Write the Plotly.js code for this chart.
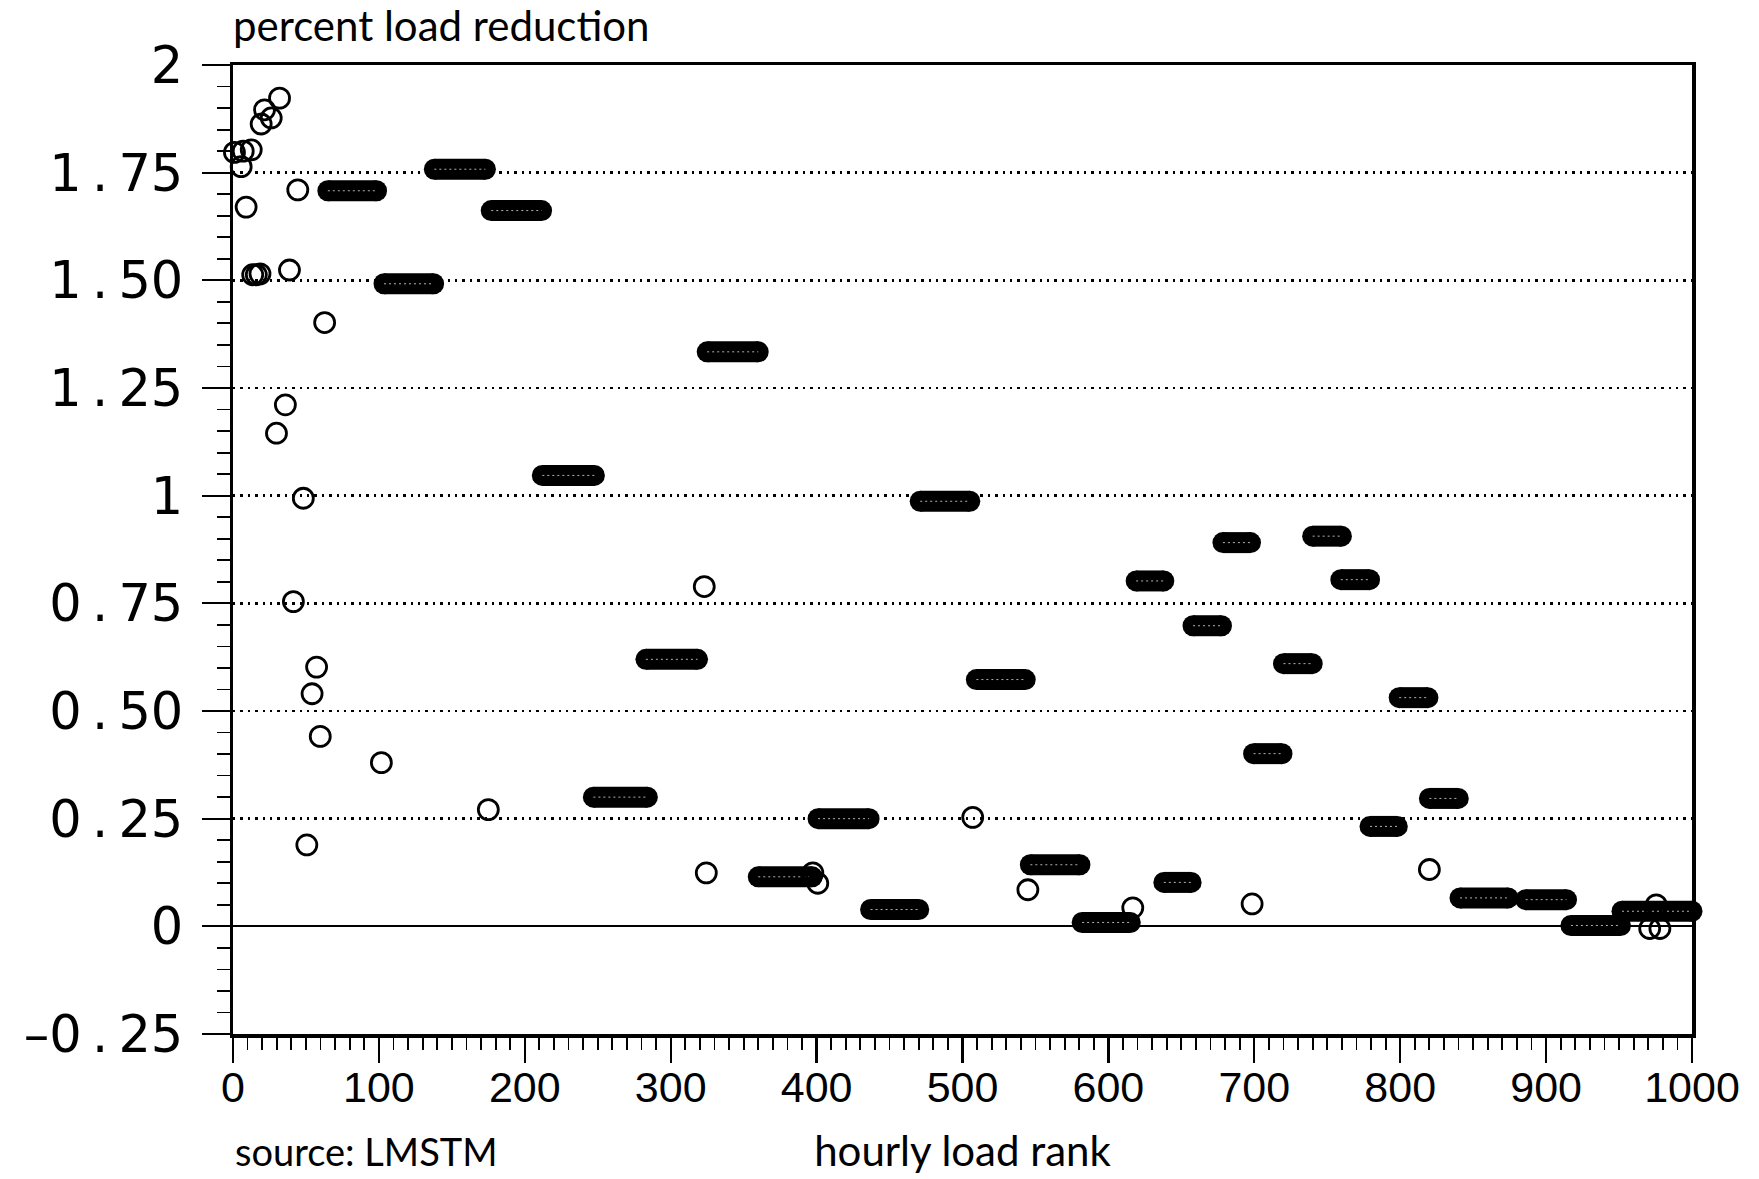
<!DOCTYPE html>
<html>
<head>
<meta charset="utf-8">
<script src="https://cdn.plot.ly/plotly-3.0.1.min.js"></script>
<style>
  html, body { margin: 0; padding: 0; background: #ffffff; }
  #chart { width: 1759px; height: 1179px; }
</style>
</head>
<body>
<div id="chart"></div>
<script>
// ---- Data ----
// Isolated hours (open circles): hourly load rank and percent load reduction
const circleRank  = [1, 7, 12.5, 5.6, 9, 19.3, 21.6, 26.2, 31.9, 13.5, 16, 18.5, 38.7, 44.4, 62.8,
                     35.9, 29.8, 48.2, 41.4, 57.3, 54.2, 59.8, 101.7, 50.6, 175, 323, 324.4,
                     397.4, 400.8, 507, 544.8, 616.7, 698.5, 820, 975.5, 971, 978];
const circleValue = [1.797, 1.800, 1.803, 1.764, 1.670, 1.863, 1.896, 1.877, 1.923, 1.513, 1.513, 1.515, 1.524, 1.710, 1.402,
                     1.211, 1.145, 0.994, 0.754, 0.602, 0.540, 0.441, 0.380, 0.189, 0.271, 0.789, 0.124,
                     0.124, 0.100, 0.253, 0.085, 0.043, 0.052, 0.132, 0.050, -0.005, -0.005];

// Runs of consecutive hours sharing one reduction (drawn as dense bars of circles)
const blockStart = [65, 103.5, 138, 177, 212, 247, 283, 325, 360, 401, 437, 471, 509.5, 546.5, 582,
                    619, 638, 658, 678.5, 699.5, 720, 740, 759.3, 779.3, 799.3, 820, 841, 886, 917, 952];
const blockEnd   = [98.4, 137.5, 173, 211.5, 247.7, 284, 318.4, 360, 397, 436, 470, 505, 543, 580.5, 615,
                    638, 656.7, 677.5, 697.4, 719, 739.7, 759.7, 779, 798, 819, 839.8, 874, 914, 951, 1000];
const blockValue = [1.708, 1.492, 1.758, 1.662, 1.047, 0.300, 0.620, 1.334, 0.115, 0.250, 0.039, 0.987, 0.573, 0.143, 0.009,
                    0.802, 0.102, 0.698, 0.891, 0.401, 0.610, 0.906, 0.805, 0.232, 0.531, 0.297, 0.066, 0.062, 0.002, 0.035];

// Axis ticks
const yTickVals = [-0.25, 0, 0.25, 0.5, 0.75, 1, 1.25, 1.5, 1.75, 2];
const yTickText = ["\u20130\u2009.\u200925", "0", "0\u2009.\u200925", "0\u2009.\u200950", "0\u2009.\u200975",
                   "1", "1\u2009.\u200925", "1\u2009.\u200950", "1\u2009.\u200975", "2"];
const xTickVals = [0, 100, 200, 300, 400, 500, 600, 700, 800, 900, 1000];
const xTickText = ["0", "100", "200", "300", "400", "500", "600", "700", "800", "900", "1000"];

// ---- Build segment arrays for the runs ----
const segX = [], segY = [];
for (let i = 0; i < blockStart.length; i++) {
  segX.push(blockStart[i], blockEnd[i], null);
  segY.push(blockValue[i], blockValue[i], null);
}

const BAR_H = 21;
const traces = [
  {
    type: 'scatter', mode: 'lines+markers', x: segX, y: segY,
    line: { color: '#000000', width: BAR_H },
    marker: { symbol: 'circle', size: BAR_H, color: '#000000', line: { width: 0 } },
    connectgaps: false, cliponaxis: false, hoverinfo: 'skip', showlegend: false
  },
  {
    type: 'scatter', mode: 'lines', x: segX, y: segY,
    line: { color: '#b0b0b0', width: 1, dash: '2px,3px' },
    connectgaps: false, cliponaxis: false, hoverinfo: 'skip', showlegend: false
  },
  {
    type: 'scatter', mode: 'markers', x: circleRank, y: circleValue,
    marker: { symbol: 'circle-open', size: 20, color: '#000000', line: { width: 2.8, color: '#000000' } },
    cliponaxis: false, showlegend: false
  }
];

const textFont = { family: 'Lato, "Open Sans", sans-serif', size: 42, color: '#000000' };

const layout = {
  width: 1759, height: 1179,
  paper_bgcolor: '#ffffff', plot_bgcolor: '#ffffff',
  margin: { l: 233, r: 67, t: 65, b: 145, pad: 0 },
  showlegend: false,
  title: {
    text: 'percent load reduction',
    font: textFont,
    x: 0, xref: 'paper', xanchor: 'left',
    y: 1 - 26 / 1179, yref: 'container', yanchor: 'middle'
  },
  xaxis: {
    range: [0, 1000], autorange: false,
    tickmode: 'array', tickvals: xTickVals, ticktext: xTickText,
    ticks: 'outside', ticklen: 25, tickwidth: 2.2, tickcolor: '#000000',
    minor: { dtick: 10, tick0: 0, ticks: 'outside', ticklen: 12, tickwidth: 1.8, tickcolor: '#000000', showgrid: false },
    tickfont: { family: '"Liberation Sans", sans-serif', size: 43, color: '#000000' },
    ticklabelstandoff: -12,
    showline: true, linecolor: '#000000', linewidth: 3.5, mirror: true,
    showgrid: false, zeroline: false,
    title: { text: 'hourly load rank', font: textFont, standoff: 27 }
  },
  yaxis: {
    range: [-0.25, 2], autorange: false,
    tickmode: 'array', tickvals: yTickVals, ticktext: yTickText,
    ticks: 'outside', ticklen: 28, tickwidth: 2.2, tickcolor: '#000000',
    minor: { dtick: 0.05, tick0: 0, ticks: 'outside', ticklen: 13, tickwidth: 1.8, tickcolor: '#000000', showgrid: false },
    tickfont: { family: '"DejaVu Sans", sans-serif', size: 51, color: '#000000' },
    ticklabelstandoff: 8,
    showline: true, linecolor: '#000000', linewidth: 3.5, mirror: true,
    showgrid: true, gridcolor: '#000000', gridwidth: 2.4, griddash: '2.4px,5px',
    zeroline: true, zerolinecolor: '#000000', zerolinewidth: 1.8
  },
  annotations: [
    {
      text: 'source: LMSTM', showarrow: false,
      xref: 'paper', yref: 'paper', x: 0, y: 0, xanchor: 'left', yanchor: 'bottom',
      height: 36, valign: 'middle',
      yshift: -137, font: { family: textFont.family, size: 38, color: '#000000' }
    }
  ]
};

Plotly.newPlot('chart', traces, layout, { staticPlot: true, displayModeBar: false });
</script>
</body>
</html>
